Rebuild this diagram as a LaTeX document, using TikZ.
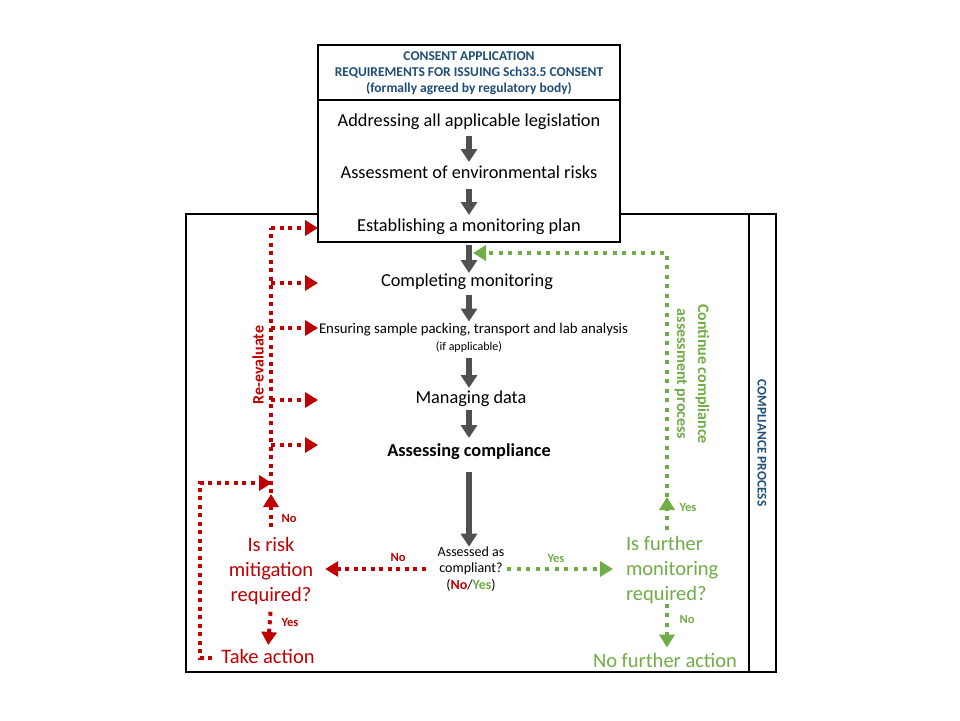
\documentclass[tikz,border=0pt]{standalone}
\usepackage{fontspec}
\setmainfont{Carlito}
\usetikzlibrary{arrows.meta}
\definecolor{rred}{HTML}{C00000}
\definecolor{ggreen}{HTML}{70AD47}
\definecolor{navy}{HTML}{1F4E79}
\definecolor{agray}{HTML}{505050}
\begin{document}
\begin{tikzpicture}[x=1pt,y=-1pt,
  every node/.style={inner sep=0pt, outer sep=0pt},
  ftext/.style={font=\fontsize{18.3}{21}\selectfont, text height=13.5pt, text depth=4.5pt},
  flow/.style={draw=agray, line width=6pt, -{Triangle[length=13pt,width=16pt]}},
  rdot/.style={draw=rred, line width=4pt, dash pattern=on 4pt off 4.5pt},
  gdot/.style={draw=ggreen, line width=4pt, dash pattern=on 4pt off 5.5pt},
  tip/.style={-{Triangle[length=13pt,width=15pt]}},
  qtext/.style={font=\fontsize{20.5}{25}\selectfont, align=center},
  lbl/.style={font=\bfseries\fontsize{12.5}{14}\selectfont},
  frame/.style={draw=black, line width=1.5pt}
]
\useasboundingbox (0,0) rectangle (960,720);
\fill[white] (0,0) rectangle (960,720);

% outer compliance frame
\draw[frame] (186,214) rectangle (749,672);
\draw[frame] (749,214) rectangle (776,672);
\node[rotate=-90, font=\bfseries\fontsize{13.3}{15}\selectfont, text=navy] (cp) at (762,443) {COMPLIANCE PROCESS};

% consent application box
\draw[frame, fill=white] (318,45) rectangle (620,100);
\draw[frame, fill=white] (318,100) rectangle (620,242);
\draw[draw=black, line width=2.5pt] (318,100) -- (620,100);
\node[font=\bfseries\fontsize{13.5}{16}\selectfont, text=navy, align=center] (head) at (469,73)
  {CONSENT APPLICATION\\REQUIREMENTS FOR ISSUING Sch33.5 CONSENT\\(formally agreed by regulatory body)};

% main flow texts
\node[ftext] (b1) at (469,122) {Addressing all applicable legislation};
\node[ftext] (b2) at (469,174) {Assessment of environmental risks};
\node[ftext] (b3) at (469,227) {Establishing a monitoring plan};
\node[ftext] (c1) at (467,282) {Completing monitoring};
\node[font=\fontsize{14.8}{17}\selectfont, text height=11.5pt, text depth=3.5pt] (c2) at (473.5,329) {Ensuring sample packing, transport and lab analysis};
\node[font=\fontsize{12}{14}\selectfont, text height=9pt, text depth=3pt] (c2b) at (469,347) {(if applicable)};
\node[ftext] (c3) at (471,399) {Managing data};
\node[ftext, font=\bfseries\fontsize{18.3}{21}\selectfont] (c4) at (469,452) {Assessing compliance};
\node[font=\fontsize{14}{16.5}\selectfont, align=center] (q) at (471,569)
  {Assessed as\\compliant?\\(\textcolor{rred}{\bfseries No}/\textcolor{ggreen}{\bfseries Yes})};

% gray flow arrows
\draw[flow, shorten <=5pt, shorten >=3pt] (b1.south) -- (b2.north);
\draw[flow, shorten <=6pt, shorten >=3pt] (b2.south) -- (b3.north);
\draw[flow, shorten <=9pt, shorten >=0pt] (b3.south) -- (b3.south |- c1.north);
\draw[flow, shorten <=4pt, shorten >=0pt] (b3.south |- c1.south) -- (b3.south |- c2.north);
\draw[flow, shorten <=5pt, shorten >=2pt] (c2b.south) -- (c2b.south |- c3.north);
\draw[flow, shorten <=2pt, shorten >=5pt] (c2b.south |- c3.south) -- (c2b.south |- c4.north);
\draw[flow, shorten <=11pt, shorten >=0pt] (c4.south) -- (c4.south |- q.north);

% decision nodes
\node[qtext, text=rred] (risk) at (271,571) {Is risk\\mitigation\\required?};
\node[qtext, text=rred, text height=15pt, text depth=5pt] (take) at (268,658) {Take action};
\node[qtext, text=ggreen, align=left, anchor=west] (further) at (626,570) {Is further\\monitoring\\required?};
\node[qtext, text=ggreen, text height=15pt, text depth=5pt] (nofurther) at (665,662) {No further action};

% red re-evaluate structure
\coordinate (rvtop) at (271,228);
\coordinate (rvbot) at (271,493);
\coordinate (rvloop) at (272,483);
\coordinate (lc) at (200,483);
\coordinate (rv1) at (271,228); \coordinate (r1) at (318,228);
\coordinate (rv2) at (271,283); \coordinate (r2) at (318,283);
\coordinate (rv3) at (271,328); \coordinate (r3) at (318,328);
\coordinate (rv4) at (271,400); \coordinate (r4) at (318,400);
\coordinate (rv5) at (271,445); \coordinate (r5) at (318,445);
\draw[rdot] (rvbot) -- (rvtop);
\foreach \i in {1,...,5} { \draw[rdot, tip] (rv\i) -- (r\i); }
\node[rotate=90, font=\bfseries\fontsize{16}{18}\selectfont, text=rred] (reeval) at (258,365) {Re-evaluate};

\draw[rdot, tip, shorten <=10pt, shorten >=1pt] (risk.north) -- (rvbot);
\node[lbl, text=rred] (lno1) at (289,518) {No};
\draw[rdot, tip, shorten <=7pt, shorten >=3pt] (risk.south) -- (take.north);
\node[lbl, text=rred] (lyes1) at (290,622) {Yes};
\draw[rdot, tip, shorten <=9pt] (take.west) -- (take.west -| lc) -- (lc) -- (rvloop);
\draw[rdot, tip, shorten <=12pt, shorten >=12pt] (q.west) -- (q.west -| risk.east);
\node[lbl, text=rred] (lno2) at (398,557) {No};

% green structure
\coordinate (gv) at (667,253);
\coordinate (gvb) at (667,497);
\coordinate (gtip) at (473,253);
\draw[gdot, tip, shorten <=3pt, shorten >=13pt] (q.east) -- (q.east -| further.west);
\node[lbl, text=ggreen] (gyes1) at (556,558) {Yes};
\draw[gdot, tip, shorten <=6.5pt] (further.north -| gv) -- (gvb);
\node[lbl, text=ggreen] (gyes2) at (688,507) {Yes};
\draw[gdot, tip, shorten <=0pt, shorten >=4.5pt] (further.south -| gv) -- (nofurther.north -| gv);
\draw[gdot, tip] (gvb) -- (gv) -- (gtip);
\node[lbl, text=ggreen] (gno) at (687,619) {No};
\node[rotate=-90, align=center, font=\bfseries\fontsize{16}{21}\selectfont, text=ggreen] (cont) at (692,374)
  {Continue compliance\\assessment process};
\end{tikzpicture}
\end{document}
